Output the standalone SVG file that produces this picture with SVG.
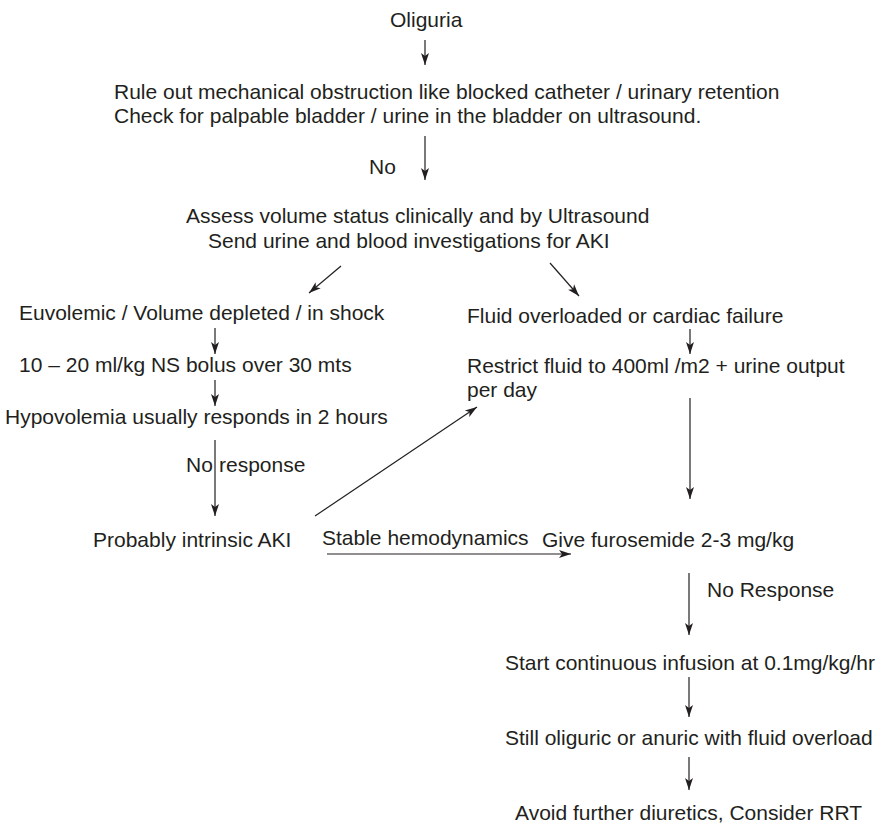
<svg xmlns="http://www.w3.org/2000/svg" width="883" height="825" viewBox="0 0 883 825">
  <defs>
    <marker id="head" markerUnits="userSpaceOnUse" markerWidth="14" markerHeight="10" viewBox="0 -5 14 10" refX="12" refY="0" orient="auto">
      <path d="M0,-4 L12,0 L0,4 L3,0 z" fill="#231f20"/>
    </marker>
    <style>
      text { font-family: "Liberation Sans", Arial, Helvetica, sans-serif; font-size: 21px; fill: #231f20; }
      .conn line { stroke: #231f20; stroke-width: 1.2; fill: none; marker-end: url(#head); }
    </style>
  </defs>
  <rect width="883" height="825" fill="#ffffff"/>

  <!-- steps of the flowchart -->
  <g id="oliguria"><text x="390" y="27">Oliguria</text></g>
  <g id="rule-out">
    <text x="114" y="99">Rule out mechanical obstruction like blocked catheter / urinary retention</text>
    <text x="114" y="123">Check for palpable bladder / urine in the bladder on ultrasound.</text>
  </g>
  <g id="assess">
    <text x="186" y="223">Assess volume status clinically and by Ultrasound</text>
    <text x="208" y="248">Send urine and blood investigations for AKI</text>
  </g>
  <g id="euvolemic"><text x="19" y="320">Euvolemic / Volume depleted / in shock</text></g>
  <g id="bolus"><text x="19" y="372">10 – 20 ml/kg NS bolus over 30 mts</text></g>
  <g id="hypovolemia"><text x="5" y="424">Hypovolemia usually responds in 2 hours</text></g>
  <g id="intrinsic-aki"><text x="93" y="547">Probably intrinsic AKI</text></g>
  <g id="fluid-overload"><text x="467" y="323">Fluid overloaded or cardiac failure</text></g>
  <g id="restrict-fluid">
    <text x="467" y="373">Restrict fluid to 400ml /m2 + urine output</text>
    <text x="467" y="397">per day</text>
  </g>
  <g id="furosemide"><text x="542" y="547">Give furosemide 2-3 mg/kg</text></g>
  <g id="infusion"><text x="505" y="670">Start continuous infusion at 0.1mg/kg/hr</text></g>
  <g id="still-oliguric"><text x="505" y="745">Still oliguric or anuric with fluid overload</text></g>
  <g id="rrt"><text x="515" y="820">Avoid further diuretics, Consider RRT</text></g>

  <!-- connectors and their labels -->
  <g id="connectors" class="conn">
    <line x1="425" y1="40" x2="425" y2="65"/>
    <line x1="425" y1="136" x2="425" y2="180"/>
    <text x="369" y="174">No</text>
    <line x1="341" y1="266" x2="309" y2="293"/>
    <line x1="550" y1="263" x2="579" y2="296"/>
    <line x1="215" y1="328" x2="215" y2="354"/>
    <line x1="215" y1="380" x2="215" y2="406"/>
    <line x1="215" y1="440" x2="215" y2="516"/>
    <text x="186" y="472">No</text>
    <text x="219" y="472">response</text>
    <line x1="315" y1="516" x2="477" y2="407"/>
    <line x1="327" y1="554" x2="571" y2="554"/>
    <text x="322" y="545">Stable hemodynamics</text>
    <line x1="690" y1="329" x2="690" y2="354"/>
    <line x1="690" y1="398" x2="690" y2="499"/>
    <line x1="689" y1="573" x2="689" y2="635"/>
    <text x="707" y="597">No Response</text>
    <line x1="689" y1="677" x2="689" y2="717"/>
    <line x1="689" y1="757" x2="689" y2="790"/>
  </g>
</svg>
